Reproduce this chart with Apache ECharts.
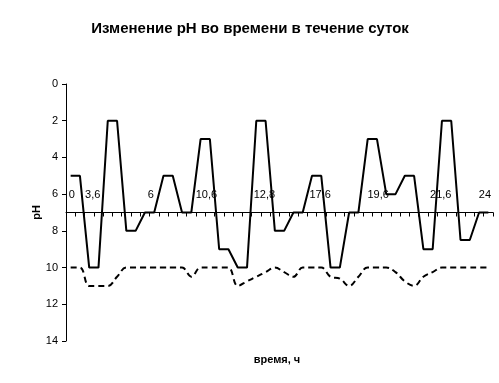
<!DOCTYPE html>
<html>
<head>
<meta charset="utf-8">
<script src="https://cdn.jsdelivr.net/npm/echarts@6/dist/echarts.min.js"></script>
<style>html,body{margin:0;padding:0;background:#fff}#c{width:499px;height:383px}</style>
</head>
<body>
<div id="c"></div>
<script>
// 46 measurement points over 24 hours
var pointIndex = [];
for (var i = 0; i < 46; i++) pointIndex.push(String(i));

var phSolid = [5,5,10,10,2,2,8,8,7,7,5,5,7,7,3,3,9,9,10,10,2,2,8,8,7,7,5,5,10,10,7,7,3,3,6,6,5,5,9,9,2,2,8.5,8.5,7,7];
var phDashed = [10,10,11,11,11,10.5,10,10,10,10,10,10,10,10.5,10,10,10,10,11,10.75,10.5,10.25,10,10.25,10.5,10,10,10,10.5,10.6,11,10.5,10,10,10,10.25,10.75,11,10.5,10.25,10,10,10,10,10,10];

// time tick labels and their slots on a quarter-step label axis (4 slots per point)
var timeLabels = ['0','3,6','6','10,6','12,8','17,6','19,6','21,6','24'];
var timeLabelSlots = [2,11,36,60,85,109,134,161,180];

var labelSlots = [];
for (var k = 0; k < 46 * 4; k++) labelSlots.push('');
for (var t = 0; t < timeLabels.length; t++) labelSlots[timeLabelSlots[t]] = timeLabels[t];

var FONT = "'Liberation Sans', Arial, sans-serif";
var gridTop = 84, gridH = 257;
var axisOffset = -(gridH * 7 / 14);

var chart = echarts.init(document.getElementById('c'), null, {renderer: 'canvas'});
chart.setOption({
  animation: false,
  backgroundColor: '#ffffff',
  title: [
    {text: 'Изменение рН во времени в течение суток', left: 245, textAlign: 'center', top: 16,
     textStyle: {fontFamily: FONT, fontSize: 15, fontWeight: 'bold', color: '#000'}},
    {text: 'время, ч', left: 272, textAlign: 'center', top: 349,
     textStyle: {fontFamily: FONT, fontSize: 11, fontWeight: 'bold', color: '#000'}}
  ],
  grid: {left: 66, right: 6, top: gridTop, height: gridH, containLabel: false},
  xAxis: [
    {
      type: 'category', data: pointIndex, boundaryGap: true, position: 'top', offset: axisOffset,
      axisLine: {show: true, onZero: false, lineStyle: {color: '#000', width: 1}},
      axisTick: {show: true, inside: true, length: 4, interval: 0, lineStyle: {color: '#000', width: 1}},
      axisLabel: {show: false},
      splitLine: {show: false}
    },
    {
      type: 'category', data: labelSlots, boundaryGap: true, position: 'top', offset: axisOffset,
      axisLine: {show: false, onZero: false},
      axisTick: {show: false},
      axisLabel: {interval: 0, margin: 12, fontFamily: FONT, fontSize: 11, color: '#000'},
      splitLine: {show: false}
    }
  ],
  yAxis: {
    type: 'value', inverse: true, min: 0, max: 14, interval: 2,
    name: 'pH', nameLocation: 'middle', nameRotate: 90, nameGap: 24, nameMoveOverlap: false,
    nameTextStyle: {fontFamily: FONT, fontSize: 11, fontWeight: 'bold', color: '#000'},
    axisLine: {show: true, lineStyle: {color: '#000', width: 1}},
    axisTick: {show: true, length: 4, lineStyle: {color: '#000'}},
    axisLabel: {margin: 8, fontFamily: FONT, fontSize: 11, color: '#000'},
    splitLine: {show: false}
  },
  series: [
    {type: 'line', xAxisIndex: 0, data: phSolid, showSymbol: false, symbol: 'none',
     lineStyle: {color: '#000', width: 2}, z: 3},
    {type: 'line', xAxisIndex: 0, data: phDashed, showSymbol: false, symbol: 'none', smooth: 0.4,
     lineStyle: {color: '#000', width: 2, type: [6, 4]}, z: 3}
  ]
});
</script>
</body>
</html>
